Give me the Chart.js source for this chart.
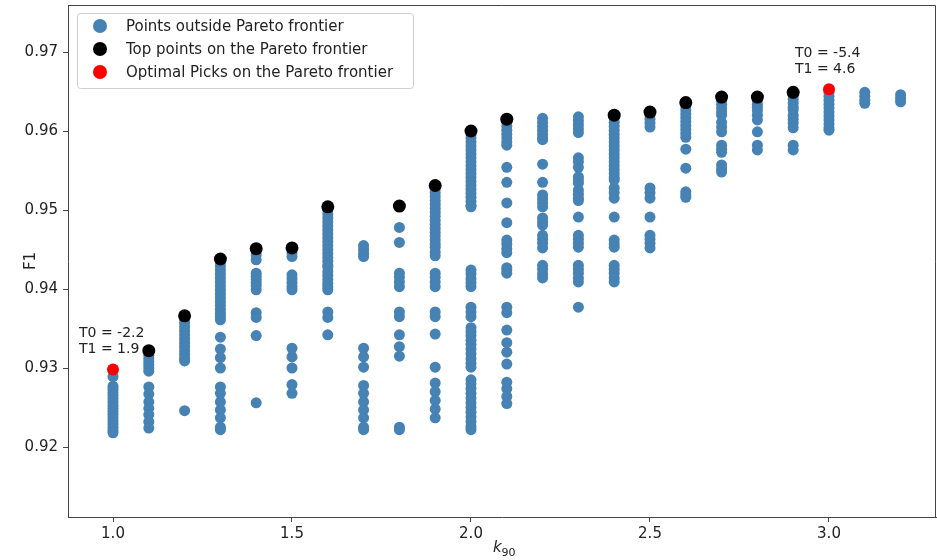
<!DOCTYPE html>
<html>
<head>
<meta charset="utf-8">
<script src="https://cdn.jsdelivr.net/npm/chart.js@4/dist/chart.umd.min.js"></script>
<style>
  body { margin: 0; background: #fff; }
  canvas { display: block; }
</style>
</head>
<body>
<canvas id="paretoChart" width="937" height="560"></canvas>
<script>
// k90 columns and the F1 values of points outside the frontier
const kValues = [1.0, 1.1, 1.2, 1.3, 1.4, 1.5, 1.6, 1.7, 1.8, 1.9, 2.0, 2.1, 2.2, 2.3, 2.4, 2.5, 2.6, 2.7, 2.8, 2.9, 3.0, 3.1, 3.2];
const outsideF1 = [
    [0.9289, 0.9277, 0.9273, 0.9269, 0.9265, 0.9261, 0.9257, 0.9253, 0.9249, 0.9245, 0.9241, 0.9237, 0.9233, 0.9229, 0.9225, 0.9221, 0.9218],
    [0.9316, 0.9312, 0.9308, 0.9304, 0.9300, 0.9296, 0.9276, 0.9267, 0.9257, 0.9249, 0.9241, 0.9232, 0.9224],
    [0.9362, 0.9357, 0.9352, 0.9347, 0.9342, 0.9337, 0.9332, 0.9327, 0.9322, 0.9317, 0.9312, 0.9309, 0.9246],
    [0.9434, 0.9429, 0.9424, 0.9419, 0.9414, 0.9409, 0.9404, 0.9399, 0.9394, 0.9389, 0.9384, 0.9379, 0.9374, 0.9369, 0.9365, 0.9361, 0.9339, 0.9324, 0.9313, 0.9300, 0.9276, 0.9268, 0.9257, 0.9247, 0.9237, 0.9225, 0.9222],
    [0.9448, 0.9443, 0.9437, 0.9420, 0.9416, 0.9412, 0.9408, 0.9404, 0.9399, 0.9370, 0.9364, 0.9341, 0.9256],
    [0.9446, 0.9441, 0.9418, 0.9413, 0.9408, 0.9403, 0.9399, 0.9325, 0.9314, 0.9300, 0.9279, 0.9268],
    [0.9500, 0.9495, 0.9490, 0.9485, 0.9480, 0.9475, 0.9470, 0.9465, 0.9460, 0.9455, 0.9450, 0.9445, 0.9440, 0.9435, 0.9430, 0.9428, 0.9422, 0.9417, 0.9412, 0.9407, 0.9403, 0.9399, 0.9371, 0.9364, 0.9342],
    [0.9455, 0.9450, 0.9445, 0.9441, 0.9325, 0.9314, 0.9301, 0.9278, 0.9268, 0.9257, 0.9247, 0.9237, 0.9225, 0.9222],
    [0.9478, 0.9459, 0.9420, 0.9415, 0.9409, 0.9403, 0.9371, 0.9365, 0.9342, 0.9327, 0.9315, 0.9225, 0.9222],
    [0.9527, 0.9522, 0.9517, 0.9512, 0.9507, 0.9502, 0.9497, 0.9492, 0.9487, 0.9482, 0.9477, 0.9472, 0.9467, 0.9462, 0.9457, 0.9453, 0.9447, 0.9442, 0.9420, 0.9415, 0.9409, 0.9403, 0.9371, 0.9365, 0.9343, 0.9301, 0.9281, 0.9270, 0.9259, 0.9248, 0.9237],
    [0.9596, 0.9591, 0.9586, 0.9581, 0.9576, 0.9571, 0.9566, 0.9561, 0.9556, 0.9551, 0.9546, 0.9541, 0.9536, 0.9531, 0.9526, 0.9521, 0.9516, 0.9511, 0.9506, 0.9504, 0.9424, 0.9419, 0.9413, 0.9408, 0.9403, 0.9377, 0.9371, 0.9365, 0.9351, 0.9346, 0.9341, 0.9335, 0.9330, 0.9324, 0.9318, 0.9312, 0.9306, 0.9301, 0.9285, 0.9280, 0.9274, 0.9268, 0.9262, 0.9256, 0.9250, 0.9244, 0.9238, 0.9232, 0.9226, 0.9222],
    [0.9611, 0.9606, 0.9601, 0.9596, 0.9591, 0.9586, 0.9582, 0.9554, 0.9535, 0.9509, 0.9484, 0.9462, 0.9457, 0.9451, 0.9446, 0.9427, 0.9424, 0.9420, 0.9377, 0.9370, 0.9348, 0.9332, 0.9320, 0.9305, 0.9282, 0.9274, 0.9264, 0.9255],
    [0.9616, 0.9611, 0.9606, 0.9601, 0.9596, 0.9591, 0.9589, 0.9558, 0.9535, 0.9519, 0.9514, 0.9509, 0.9504, 0.9490, 0.9485, 0.9481, 0.9468, 0.9463, 0.9458, 0.9452, 0.9430, 0.9425, 0.9419, 0.9414],
    [0.9618, 0.9613, 0.9608, 0.9603, 0.9598, 0.9566, 0.9561, 0.9554, 0.9542, 0.9538, 0.9534, 0.9525, 0.9520, 0.9515, 0.9512, 0.9491, 0.9468, 0.9463, 0.9458, 0.9453, 0.9430, 0.9425, 0.9420, 0.9414, 0.9409, 0.9377],
    [0.9616, 0.9611, 0.9606, 0.9601, 0.9596, 0.9591, 0.9586, 0.9581, 0.9576, 0.9571, 0.9566, 0.9561, 0.9556, 0.9551, 0.9546, 0.9541, 0.9538, 0.9528, 0.9522, 0.9515, 0.9491, 0.9462, 0.9457, 0.9453, 0.9430, 0.9425, 0.9420, 0.9414, 0.9409],
    [0.9620, 0.9615, 0.9610, 0.9605, 0.9528, 0.9522, 0.9515, 0.9491, 0.9468, 0.9463, 0.9458, 0.9452],
    [0.9632, 0.9627, 0.9622, 0.9617, 0.9612, 0.9607, 0.9602, 0.9597, 0.9592, 0.9577, 0.9553, 0.9523, 0.9519, 0.9516],
    [0.9639, 0.9634, 0.9629, 0.9624, 0.9620, 0.9611, 0.9605, 0.9599, 0.9582, 0.9577, 0.9573, 0.9557, 0.9552, 0.9548],
    [0.9639, 0.9634, 0.9630, 0.9626, 0.9620, 0.9614, 0.9599, 0.9582, 0.9576],
    [0.9645, 0.9640, 0.9635, 0.9630, 0.9627, 0.9620, 0.9615, 0.9610, 0.9604, 0.9582, 0.9576],
    [0.9649, 0.9644, 0.9639, 0.9634, 0.9629, 0.9624, 0.9619, 0.9614, 0.9609, 0.9604, 0.9601],
    [0.9649, 0.9644, 0.9639, 0.9635],
    [0.9646, 0.9641, 0.9637]
];

// top points on the frontier
const topK = [1.1, 1.2, 1.3, 1.4, 1.5, 1.6, 1.8, 1.9, 2.0, 2.1, 2.4, 2.5, 2.6, 2.7, 2.8, 2.9];
const topF1 = [0.9322, 0.9366, 0.9438, 0.9451, 0.9452, 0.9504, 0.9505, 0.9531, 0.9600, 0.9615, 0.9620, 0.9624, 0.9636, 0.9643, 0.9643, 0.9649];

// optimal picks
const optK = [1.0, 3.0];
const optF1 = [0.9298, 0.9653];
const optLabels = [['T0 = -2.2', 'T1 = 1.9'], ['T0 = -5.4', 'T1 = 4.6']];

const xTicks = [1.0, 1.5, 2.0, 2.5, 3.0];
const yTicks = [0.92, 0.93, 0.94, 0.95, 0.96, 0.97];

const legendLabels = ['Points outside Pareto frontier', 'Top points on the Pareto frontier', 'Optimal Picks on the Pareto frontier'];
const colors = ['#4682b4', '#000000', '#ff0000'];

const FONT = "'DejaVu Sans', sans-serif";

let outsidePoints = [];
kValues.forEach((k, i) => {
    outsideF1[i].forEach(v => outsidePoints.push({ x: k, y: v }));
});
const topPoints = topK.map((k, i) => ({ x: k, y: topF1[i] }));
const optPoints = optK.map((k, i) => ({ x: k, y: optF1[i] }));

const decorations = {
    id: 'decorations',
    afterDraw(chart) {
        const c = chart.ctx;
        const a = chart.chartArea;
        const xs = chart.scales.x;
        const ys = chart.scales.y;
        c.save();

        // top and right spines
        c.strokeStyle = '#444';
        c.lineWidth = 1;
        c.beginPath();
        c.moveTo(a.left, a.top + 0.5);
        c.lineTo(a.right - 0.5, a.top + 0.5);
        c.lineTo(a.right - 0.5, a.bottom);
        c.stroke();

        // annotations next to the optimal picks
        c.fillStyle = '#222';
        c.font = '14px ' + FONT;
        c.textAlign = 'left';
        c.textBaseline = 'middle';
        optPoints.forEach((p, i) => {
            const px = xs.getPixelForValue(p.x);
            const py = ys.getPixelForValue(p.y);
            c.fillText(optLabels[i][0], px - 34, py - 36);
            c.fillText(optLabels[i][1], px - 34, py - 20);
        });

        // legend
        const lx = a.left + 9, ly = a.top + 8;
        c.fillStyle = 'rgba(255,255,255,0.85)';
        c.strokeStyle = '#d0d0d0';
        c.beginPath();
        c.roundRect(lx + 0.5, ly + 0.5, 336, 75, 3);
        c.fill();
        c.stroke();
        c.font = '15px ' + FONT;
        legendLabels.forEach((t, i) => {
            const cy = ly + 13 + i * 23;
            c.fillStyle = colors[i];
            c.beginPath();
            c.arc(lx + 23, cy, 7, 0, Math.PI * 2);
            c.fill();
            c.fillStyle = '#222';
            c.fillText(t, lx + 49, cy + 1);
        });

        // axis labels
        c.fillStyle = '#222';
        c.font = '15px ' + FONT;
        c.save();
        c.translate(31, (a.top + a.bottom) / 2);
        c.rotate(-Math.PI / 2);
        c.textAlign = 'center';
        c.fillText('F1', 0, 0);
        c.restore();

        const cx = (a.left + a.right) / 2;
        c.textAlign = 'left';
        c.font = 'italic 15px ' + FONT;
        c.fillText('k', cx - 9, 548);
        c.font = '11px ' + FONT;
        c.fillText('90', cx - 0.5, 553);
        c.restore();
    }
};

const ctx = document.getElementById('paretoChart').getContext('2d');
let chart = new Chart(ctx, {
    type: 'scatter',
    data: {
        datasets: [
            {
                label: legendLabels[2],
                data: optPoints,
                backgroundColor: colors[2],
                borderWidth: 0,
                pointRadius: 6,
                order: 1
            },
            {
                label: legendLabels[1],
                data: topPoints,
                backgroundColor: colors[1],
                borderWidth: 0,
                pointRadius: 6.5,
                order: 2
            },
            {
                label: legendLabels[0],
                data: outsidePoints,
                backgroundColor: colors[0],
                borderWidth: 0,
                pointRadius: 5.5,
                order: 3
            }
        ]
    },
    options: {
        responsive: false,
        animation: false,
        layout: { autoPadding: false, padding: { top: 5, right: 1, left: 0, bottom: 0 } },
        plugins: {
            legend: { display: false },
            tooltip: { enabled: false }
        },
        scales: {
            x: {
                type: 'linear',
                min: 0.8743,
                max: 3.2989,
                afterBuildTicks: s => { s.ticks = xTicks.map(v => ({ value: v })); },
                afterFit: s => { s.height = 43; s.paddingLeft = 0; s.paddingRight = 0; },
                grid: { drawOnChartArea: false, drawTicks: true, tickLength: 5, tickColor: '#444' },
                border: { display: true, color: '#444', width: 1 },
                ticks: {
                    padding: 3,
                    color: '#222',
                    font: { family: FONT, size: 15 },
                    maxRotation: 0,
                    callback: v => v.toFixed(1)
                }
            },
            y: {
                type: 'linear',
                min: 0.91114,
                max: 0.97595,
                afterBuildTicks: s => { s.ticks = yTicks.map(v => ({ value: v })); },
                afterFit: s => { s.width = 68; s.paddingTop = 0; s.paddingBottom = 0; },
                grid: { drawOnChartArea: false, drawTicks: true, tickLength: 5, tickColor: '#444' },
                border: { display: true, color: '#444', width: 1 },
                ticks: {
                    padding: 5,
                    color: '#222',
                    font: { family: FONT, size: 15 },
                    callback: v => v.toFixed(2)
                }
            }
        }
    },
    plugins: [decorations]
});
</script>
</body>
</html>
